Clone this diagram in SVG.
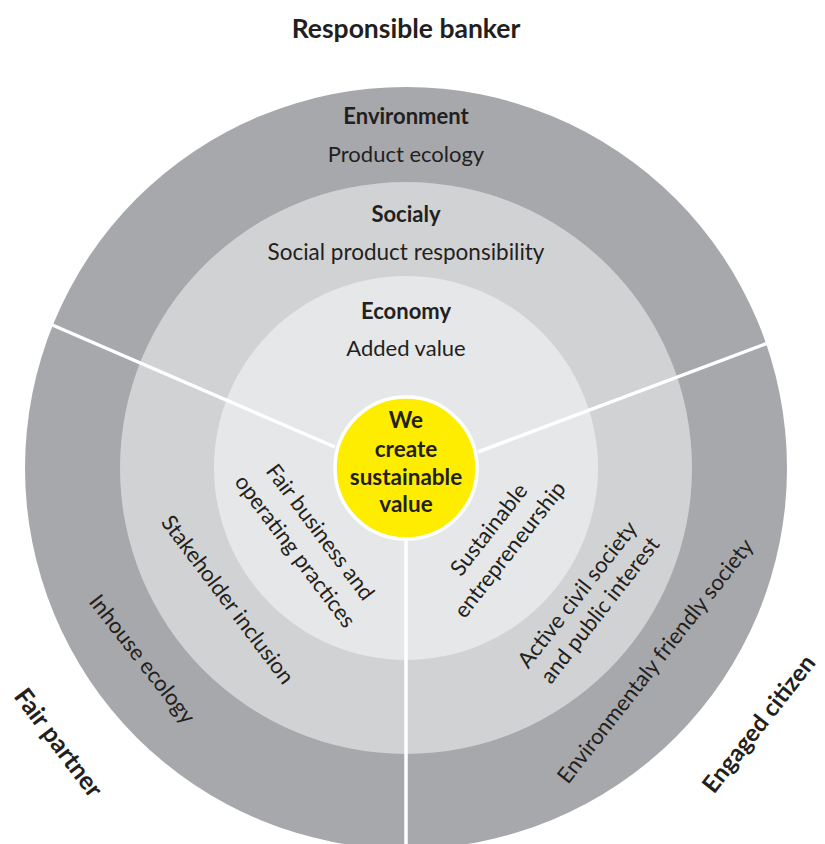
<svg xmlns="http://www.w3.org/2000/svg" width="825" height="844" viewBox="0 0 825 844">
  <style>
    text { font-family: Lato, "Open Sans", "Liberation Sans", sans-serif; fill: #231f20; font-size: 22px; text-anchor: middle; }
    .bold { font-weight: 700; }
    .title { font-weight: 700; font-size: 25px; }
    .heading { font-weight: 700; font-size: 26.5px; }
    .ring-env { fill: #a7a8ab; }
    .ring-soc { fill: #d1d2d4; }
    .ring-eco { fill: #e6e7e8; }
    .divider { stroke: #ffffff; stroke-width: 3.5; fill: none; }
  </style>

  <rect width="825" height="844" fill="#ffffff"/>

  <!-- concentric rings -->
  <g id="ring-environment"><circle class="ring-env" cx="406" cy="468" r="381"/></g>
  <g id="ring-social"><circle class="ring-soc" cx="406" cy="468" r="286"/></g>
  <g id="ring-economy"><circle class="ring-eco" cx="406" cy="468" r="192"/></g>

  <!-- sector dividers -->
  <g id="connectors">
    <line class="divider" x1="335" y1="447" x2="50" y2="324"/>
    <line class="divider" x1="478" y1="452" x2="768" y2="343"/>
    <line class="divider" x1="406" y1="540" x2="406" y2="844"/>
  </g>

  <!-- centre -->
  <g id="core">
    <circle cx="406" cy="468" r="71" fill="#ffed00" stroke="#ffffff" stroke-width="3.5"/>
    <text class="bold" x="406" y="428" style="font-size:22.5px">We</text>
    <text class="bold" x="406" y="457" style="font-size:22.5px">create</text>
    <text class="bold" x="406" y="485" style="font-size:22.5px">sustainable</text>
    <text class="bold" x="406" y="512" style="font-size:22.5px">value</text>
  </g>

  <!-- top headings -->
  <g id="responsible-banker"><text class="heading" x="406" y="38">Responsible banker</text></g>
  <g id="environment">
    <text class="bold" x="406" y="124">Environment</text>
    <text x="406" y="162">Product ecology</text>
  </g>
  <g id="socialy">
    <text class="bold" x="406" y="222">Socialy</text>
    <text x="406" y="260" style="font-size:22.5px">Social product responsibility</text>
  </g>
  <g id="economy">
    <text class="bold" x="406" y="319">Economy</text>
    <text x="406" y="356">Added value</text>
  </g>

  <!-- left sector -->
  <g id="fair-business">
    <text transform="translate(319,533) rotate(53)" y="6">Fair business and</text>
    <text transform="translate(294,552) rotate(53)" y="6">operating practices</text>
  </g>
  <g id="stakeholder-inclusion">
    <text transform="translate(226.5,600.5) rotate(53)" y="6">Stakeholder inclusion</text>
  </g>
  <g id="inhouse-ecology">
    <text transform="translate(141,660) rotate(52)" y="6">Inhouse ecology</text>
  </g>
  <g id="fair-partner">
    <text class="title" transform="translate(58,743) rotate(53)" y="8">Fair partner</text>
  </g>

  <!-- right sector -->
  <g id="sustainable-entrepreneurship">
    <text transform="translate(490,530.5) rotate(-52)" y="6">Sustainable</text>
    <text transform="translate(511,550.5) rotate(-52)" y="6">entrepreneurship</text>
  </g>
  <g id="active-civil-society">
    <text transform="translate(578.5,595.5) rotate(-52)" y="6">Active civil society</text>
    <text transform="translate(601,611) rotate(-52)" y="6">and public interest</text>
  </g>
  <g id="environmentaly-friendly-society">
    <text transform="translate(656.5,662) rotate(-52)" y="6">Environmentaly friendly society</text>
  </g>
  <g id="engaged-citizen">
    <text class="title" transform="translate(759,724) rotate(-52)" y="8" style="font-size:24px">Engaged citizen</text>
  </g>
</svg>
